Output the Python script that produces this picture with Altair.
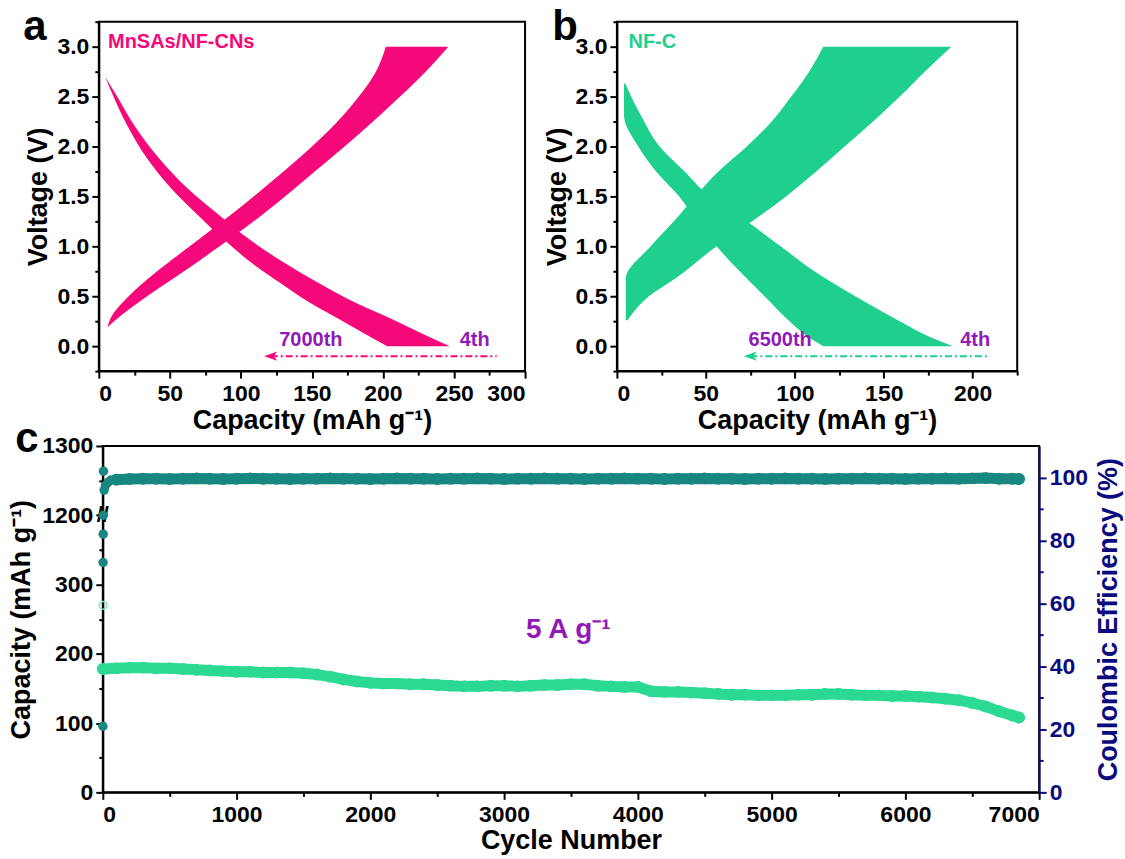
import altair as alt
import pandas as pd

FONT = "Liberation Sans"

PINK = "#F5087A"
GREEN = "#1ECF8E"
PURPLE = "#9119B8"
CE_TEAL = "#17877F"
CAP_GREEN = "#2BD993"
NAVY = "#0B0B7E"

# ---------------- panel a : MnSAs/NF-CNs, 4th .. 7000th cycle ----------------
a_dis_volt = [2.70, 2.51, 2.21, 1.88, 1.58, 1.31, 1.08, 0.84, 0.63, 0.44, 0.28, 0.11, 0.0]
a_dis_4th = [4.5, 12.5, 25, 42.5, 62.5, 85, 105, 130, 155, 180, 205, 230, 247]
a_dis_last = [4.5, 10, 20, 34, 51, 70, 87, 107, 128, 148, 168, 189, 203]
a_chg_volt = [0.19, 0.3, 0.5, 0.75, 1.0, 1.25, 1.5, 1.75, 2.0, 2.25, 2.5, 2.75, 3.0]
a_chg_4th = [6, 15, 34, 60, 85, 109, 131, 152, 173, 193, 212, 230, 246]
a_chg_last = [6, 9, 21, 41, 64, 87, 109, 130, 150, 168, 183, 195, 202]
a_arrow_cap = [121, 280]

# ---------------- panel b : NF-C, 4th .. 6500th cycle ----------------
b_dis_volt = [2.63, 2.5, 2.31, 2.0, 1.75, 1.5, 1.25, 1.0, 0.75, 0.5, 0.25, 0.1, 0.0]
b_dis_4th = [4.7, 8, 13.5, 24, 38, 52, 73, 92, 111, 134, 159, 175, 189]
b_dis_last = [4, 4, 4, 12, 22, 35, 45, 56, 69, 83, 97, 107, 116]
b_chg_volt = [0.26, 0.5, 0.68, 1.0, 1.25, 1.5, 1.75, 2.0, 2.25, 2.5, 2.75, 3.0]
b_chg_last = [5, 5, 5, 19, 32, 44, 57, 73, 87, 98, 108, 116]
b_chg_4th = [6, 18, 33, 56, 76, 95, 112, 128, 144, 159, 173, 188]
b_arrow_cap = [75, 208]

# ---------------- panel c : long cycling at 5 A g-1 ----------------
cycles = list(range(0, 6900, 100)) + [6850]
capacity = [178, 179, 180, 180, 179, 179, 178, 177, 176, 175,
            174, 174, 173, 173, 173, 172, 170, 167, 163, 160,
            158, 157, 157, 156, 156, 155, 154, 153, 153, 154,
            154, 153, 154, 155, 155, 156, 156, 154, 153, 152,
            152, 146, 145, 145, 144, 143, 142, 141, 141, 140,
            140, 140, 141, 141, 142, 142, 141, 140, 140, 139,
            139, 138, 137, 135, 133, 129, 124, 117, 111, 108]
ce_cycles = list(range(100, 6900, 100)) + [6850]
ce = [99.3, 99.5, 99.6, 99.6, 99.5, 99.6, 99.7, 99.6, 99.5, 99.6,
      99.7, 99.6, 99.6, 99.5, 99.6, 99.6, 99.7, 99.6, 99.6, 99.5,
      99.6, 99.7, 99.6, 99.6, 99.5, 99.6, 99.6, 99.7, 99.6, 99.5,
      99.6, 99.6, 99.7, 99.6, 99.6, 99.5, 99.6, 99.6, 99.7, 99.6,
      99.6, 99.5, 99.6, 99.6, 99.7, 99.6, 99.6, 99.5, 99.6, 99.6,
      99.7, 99.6, 99.6, 99.5, 99.6, 99.6, 99.7, 99.6, 99.6, 99.5,
      99.6, 99.6, 99.7, 99.6, 99.7, 99.8, 99.6, 99.6, 99.5]
ce_early_cycles = [1, 2, 3, 4, 5, 10, 20, 40, 60]
ce_early = [21, 73, 82, 88, 102, 96, 97.5, 98.5, 99.2]
cap_early_cycles = [2]
cap_early = [270]

# left capacity axis is broken between 400 and 1200 mAh g-1
BREAK_LOW, BREAK_HIGH = 400, 1200


def tick_size(test, major=7, minor=4):
    return {"condition": {"test": test, "value": major}, "value": minor}


# ---------- shared encodings for panels a and b ----------
v_ticks = [i * 0.25 for i in range(-1, 14)]
v_test = "abs(datum.value * 2 - round(datum.value * 2)) < 0.001"


def volt_y(field):
    return alt.Y(
        f"{field}:Q",
        scale=alt.Scale(domain=[-0.25, 3.25], nice=False, zero=False),
        axis=alt.Axis(values=v_ticks, format=".1f",
                      labelExpr=f"({v_test}) ? datum.label : ''",
                      tickSize=tick_size(v_test),
                      labelFontSize=23, labelPadding=3,
                      title="Voltage (V)", titleFontSize=27, titlePadding=4),
    )


def cap_x(field, xmax):
    x_test = "datum.value % 50 === 0"
    return alt.X(
        f"{field}:Q",
        scale=alt.Scale(domain=[0, xmax], nice=False),
        axis=alt.Axis(values=list(range(0, xmax + 1, 25)),
                      labelExpr=f"({x_test}) ? datum.label : ''",
                      tickSize=tick_size(x_test),
                      labelFontSize=23, labelPadding=4,
                      title="Capacity (mAh g⁻¹)", titleFontSize=27, titlePadding=3),
    )


def panel_letter(letter, dx, y):
    return alt.Chart(pd.DataFrame({"t": [letter]})).mark_text(
        fontSize=42, fontWeight="bold", align="center", baseline="alphabetic", color="black"
    ).encode(x=alt.value(dx), y=alt.value(y), text="t:N")


def gcd_panel(dis_v, dis_hi, dis_lo, chg_v, chg_hi, chg_lo, xmax, color,
              name, last_label, last_x, first_x, arrow_cap, letter, letter_dx):
    dis = pd.DataFrame({"volt": dis_v, "lo": dis_lo, "hi": dis_hi})
    chg = pd.DataFrame({"volt": chg_v, "lo": chg_lo, "hi": chg_hi})
    # the bands enclose every cycle from the 4th to the last one
    band_dis = alt.Chart(dis).mark_area(orient="horizontal", color=color, interpolate="monotone").encode(
        y=volt_y("volt"), x=cap_x("lo", xmax), x2="hi:Q")
    band_chg = alt.Chart(chg).mark_area(orient="horizontal", color=color, interpolate="monotone").encode(
        y=volt_y("volt"), x=cap_x("lo", xmax), x2="hi:Q")

    name_df = pd.DataFrame({"cap": [6.5], "volt": [3.05], "t": [name]})
    name_txt = alt.Chart(name_df).mark_text(
        align="left", baseline="middle", fontSize=20, fontWeight="bold", color=color
    ).encode(x=cap_x("cap", xmax), y=volt_y("volt"), text="t:N")

    lab_df = pd.DataFrame({"cap": [last_x, first_x], "volt": [0.0, 0.0], "t": [last_label, "4th"]})
    labs = alt.Chart(lab_df).mark_text(
        align="left", baseline="alphabetic", fontSize=20, fontWeight="bold", color=PURPLE
    ).encode(x=cap_x("cap", xmax), y=volt_y("volt"), text="t:N")

    arr_df = pd.DataFrame({"cap": arrow_cap, "volt": [-0.1, -0.1]})
    arr_line = alt.Chart(arr_df).mark_line(
        color=color, strokeWidth=2, strokeDash=[7, 3, 2, 3]
    ).encode(x=cap_x("cap", xmax), y=volt_y("volt"))
    head_df = pd.DataFrame({"cap": [arrow_cap[0]], "volt": [-0.1]})
    arr_head = alt.Chart(head_df).mark_point(
        shape="M-1,0L1,-0.7L0.45,0L1,0.7Z", filled=True, size=170, color=color, opacity=1
    ).encode(x=cap_x("cap", xmax), y=volt_y("volt"))

    let = panel_letter(letter, letter_dx, 18)

    return alt.layer(band_dis, band_chg, name_txt, labs, arr_line, arr_head, let)


pa = gcd_panel(a_dis_volt, a_dis_4th, a_dis_last, a_chg_volt, a_chg_4th, a_chg_last,
               300, PINK, "MnSAs/NF-CNs", "7000th", 127, 254, a_arrow_cap, "a", -64
               ).properties(width=427, height=350)
pb = gcd_panel(b_dis_volt, b_dis_4th, b_dis_last, b_chg_volt, b_chg_4th, b_chg_last,
               225, GREEN, "NF-C", "6500th", 74, 193, b_arrow_cap, "b", -52
               ).properties(width=401, height=350)

# ---------- panel c ----------
cyc_test = "datum.value % 1000 === 0"
cycle_x = alt.X(
    "cycle:Q", scale=alt.Scale(domain=[0, 7000], nice=False),
    axis=alt.Axis(values=list(range(0, 7001, 500)),
                  labelExpr=f"({cyc_test}) ? datum.label : ''",
                  tickSize=tick_size(cyc_test), format="d",
                  labelFontSize=23, labelPadding=4,
                  title="Cycle Number", titleFontSize=27, titlePadding=1),
)
cap_test = "datum.value % 100 === 0"
cap_y = alt.Y(
    "val:Q", scale=alt.Scale(domain=[0, 500], nice=False),
    axis=alt.Axis(values=list(range(0, 501, 50)),
                  labelExpr=(f"({cap_test}) ? (datum.value >= {BREAK_LOW} ? "
                             f"'' + (datum.value + {BREAK_HIGH - BREAK_LOW}) : datum.label) : ''"),
                  tickSize=tick_size(cap_test),
                  labelFontSize=23, labelPadding=3,
                  title="Capacity (mAh g⁻¹)", titleFontSize=27, titlePadding=6),
)
ce_test = "datum.value % 20 === 0"
ce_y = alt.Y(
    "ce:Q", scale=alt.Scale(domain=[0, 110], nice=False),
    axis=alt.Axis(orient="right", values=list(range(0, 101, 10)),
                  labelExpr=f"({ce_test}) ? datum.label : ''",
                  tickSize=tick_size(ce_test),
                  domainColor=NAVY, tickColor=NAVY, labelColor=NAVY, titleColor=NAVY,
                  labelFontSize=23, labelPadding=3,
                  title="Coulombic Efficiency (%)", titleFontSize=27, titlePadding=8,
                  titleAngle=270, titleBaseline="top"),
)

cap_df = pd.DataFrame({"cycle": cycles, "val": capacity})
cap_band = alt.Chart(cap_df).mark_line(
    color=CAP_GREEN, strokeWidth=11, strokeCap="round", strokeJoin="round"
).encode(x=cycle_x, y=cap_y)
cap_pts = alt.Chart(cap_df).mark_point(
    shape="circle", filled=False, size=80, strokeWidth=3, color=CAP_GREEN, opacity=1
).encode(x=cycle_x, y=cap_y)
cap_first = alt.Chart(pd.DataFrame({"cycle": cap_early_cycles, "val": cap_early})).mark_point(
    shape="circle", filled=False, size=60, strokeWidth=1.5, color="#7FE8C0", opacity=1
).encode(x=cycle_x, y=cap_y)
brk = alt.Chart(pd.DataFrame({"cycle": [0], "val": [BREAK_LOW], "t": ["//"]})).mark_text(
    fontSize=22, fontWeight="bold", color="black", align="center", baseline="middle"
).encode(x=cycle_x, y=cap_y, text="t:N")
rate = alt.Chart(pd.DataFrame({"cycle": [3480], "val": [223], "t": ["5 A g⁻¹"]})).mark_text(
    fontSize=28, fontWeight="bold", color=PURPLE, align="center", baseline="alphabetic"
).encode(x=cycle_x, y=cap_y, text="t:N")
let_c = panel_letter("c", -76, 6)

ce_df = pd.DataFrame({"cycle": ce_cycles, "ce": ce})
ce_band = alt.Chart(ce_df).mark_line(
    color=CE_TEAL, strokeWidth=11, strokeCap="round", strokeJoin="round"
).encode(x=cycle_x, y=ce_y)
ce_pts = alt.Chart(ce_df).mark_point(
    shape="circle", filled=False, size=80, strokeWidth=3, color=CE_TEAL, opacity=1
).encode(x=cycle_x, y=ce_y)
ce_first = alt.Chart(pd.DataFrame({"cycle": ce_early_cycles, "ce": ce_early})).mark_point(
    shape="circle", filled=True, size=90, color=CE_TEAL, opacity=1
).encode(x=cycle_x, y=ce_y)

cap_group = alt.layer(cap_band, cap_pts, cap_first, brk, rate, let_c)
ce_group = alt.layer(ce_band, ce_pts, ce_first)
pc = alt.layer(cap_group, ce_group).resolve_scale(y="independent").properties(width=938, height=347)

spacer = alt.Chart(pd.DataFrame({"v": [0]})).mark_point(opacity=0).encode(
    x=alt.value(0), y=alt.value(0)
).properties(width=1, height=347, view=alt.ViewBackground(stroke="transparent"))

top = alt.hconcat(pa, pb, spacing=92, bounds="flush")
bottom = alt.hconcat(spacer, pc, spacing=3, bounds="flush")
# flush rows: the second row starts one panel height (350) plus the gap (75) below the first
chart = alt.vconcat(top, bottom, spacing=425, bounds="flush").properties(
    padding={"left": 6, "top": 4, "right": 2, "bottom": 2}
).configure_view(
    stroke="black", strokeWidth=2
).configure_axis(
    labelFont=FONT, titleFont=FONT, labelFontWeight="bold", titleFontWeight="bold",
    labelColor="black", titleColor="black", domainColor="black", domainWidth=2,
    tickColor="black", tickWidth=2, grid=False
).configure_text(font=FONT)

chart.save("out.html", embed_options={"renderer": "svg", "actions": False})
